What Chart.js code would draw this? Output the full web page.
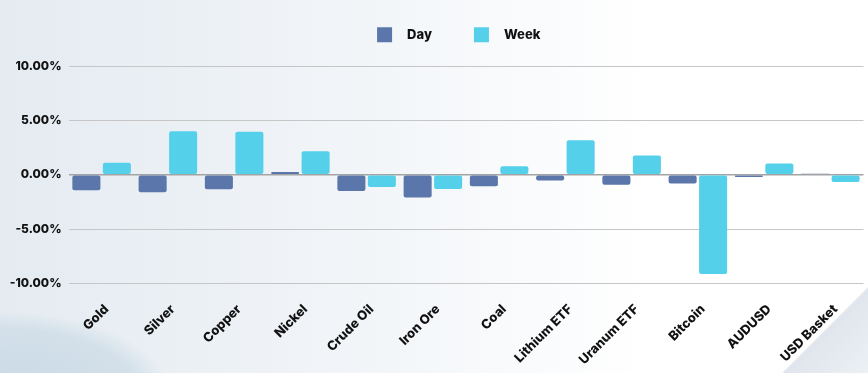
<!DOCTYPE html>
<html><head><meta charset="utf-8">
<script src="https://cdn.jsdelivr.net/npm/chart.js@4.4.1/dist/chart.umd.min.js"></script>
<style>
html,body{margin:0;padding:0;}
body{width:868px;height:373px;overflow:hidden;background:
 radial-gradient(ellipse 170px 80px at 0px 392px, #cad9e5 0%, #d3e0ea 80%, rgba(211,224,234,0) 100%),
 linear-gradient(135deg, rgba(255,255,255,0) 93%, rgba(218,225,233,0.85) 93.2%, rgba(234,239,244,0.9) 100%),
 linear-gradient(90deg, #e4ebf1 0%, #eef2f6 30%, #f7f9fb 55%, #ffffff 75%);}
canvas{display:block;}
</style></head>
<body>
<canvas id="c" width="868" height="373"></canvas>
<script>
const categories = ['Gold','Silver','Copper','Nickel','Crude Oil','Iron Ore','Coal','Lithium ETF','Uranum ETF','Bitcoin','AUDUSD','USD Basket'];
const dayValues  = [-1.42, -1.60, -1.34, 0.26, -1.49, -2.10, -1.06, -0.54, -0.92, -0.80, -0.20, 0.10];
const weekValues = [ 1.11,  4.00,  3.95, 2.17, -1.12, -1.30,  0.78,  3.18,  1.77, -9.13,  1.03, -0.66];
const yTicks = [-10, -5, 0, 5, 10];
const seriesNames = ['Day', 'Week'];
const seriesColors = ['#5a76aa', '#54d0ea'];

const FONT = "Inter, 'Open Sans', 'DejaVu Sans', sans-serif";

const legendShift = {
  id: 'legendShift',
  afterLayout(chart) {
    const lg = chart.legend;
    if (lg) {
      lg.top = -14.7;
      lg.left = 54;
      lg.right = 863.5;
      lg.width = lg.right - lg.left;
    }
  }
};

new Chart(document.getElementById('c'), {
  type: 'bar',
  data: {
    labels: categories,
    datasets: [
      { label: seriesNames[0], data: dayValues, backgroundColor: seriesColors[0], borderRadius: 2, borderSkipped: false, categoryPercentage: 0.92, barPercentage: 0.92 },
      { label: seriesNames[1], data: weekValues, backgroundColor: seriesColors[1], borderRadius: 2, borderSkipped: false, categoryPercentage: 0.92, barPercentage: 0.92 }
    ]
  },
  options: {
    responsive: false,
    animation: false,
    devicePixelRatio: 1,
    layout: { padding: { left: 10, right: 4.5, top: 0, bottom: 0 } },
    plugins: {
      tooltip: { enabled: false },
      legend: {
        position: 'top',
        maxHeight: 66,
        labels: {
          boxWidth: 15, boxHeight: 15, padding: 42, color: '#111',
          font: { family: FONT, size: 13, weight: '800' },
          generateLabels(chart) {
            return chart.data.datasets.map((ds, i) => ({
              text: '   ' + ds.label, fillStyle: ds.backgroundColor, strokeStyle: ds.backgroundColor,
              lineWidth: 0, hidden: false, datasetIndex: i, fontColor: '#111'
            }));
          }
        }
      }
    },
    scales: {
      x: {
        grid: { display: false },
        border: { display: false },
        ticks: {
          autoSkip: false, minRotation: 45, maxRotation: 45, padding: 10, labelOffset: 5,
          color: '#111', font: { family: FONT, size: 13, weight: '800' }
        },
        afterFit(s) { s.height = 89.5; }
      },
      y: {
        min: -10, max: 10,
        afterBuildTicks(s) { s.ticks = yTicks.map(v => ({ value: v })); },
        grid: {
          drawTicks: false,
          color: (c) => (c.tick && c.tick.value === 0) ? '#a3a3a3' : '#c6c6c6',
          lineWidth: (c) => (c.tick && c.tick.value === 0) ? 1.5 : 1
        },
        border: { display: false },
        ticks: {
          padding: 7, color: '#111',
          font: { family: FONT, size: 12, weight: '800' },
          callback: (v) => Number(v).toFixed(2) + '%'
        },
        afterFit(s) { s.width = 58.5; }
      }
    }
  },
  plugins: [legendShift]
});
</script>
</body></html>
